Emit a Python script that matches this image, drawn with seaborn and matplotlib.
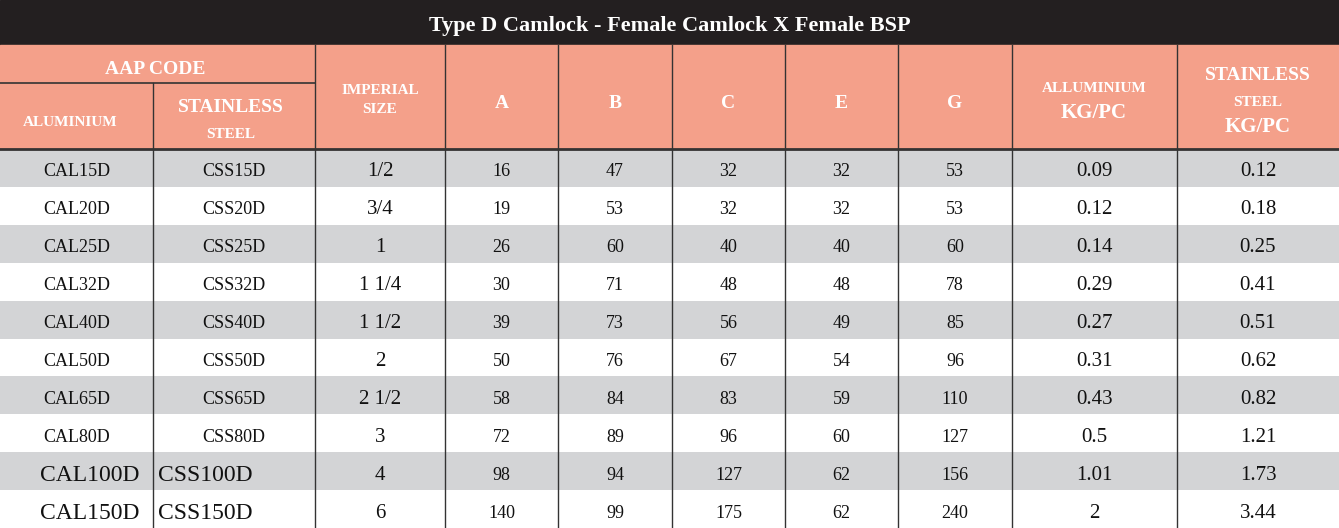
import numpy as np
import seaborn as sns
import matplotlib.pyplot as plt
from matplotlib.colors import ListedColormap
from matplotlib.patches import Rectangle

title = "Type D Camlock - Female Camlock X Female BSP"
alu_code = ["CAL15D", "CAL20D", "CAL25D", "CAL32D", "CAL40D", "CAL50D",
            "CAL65D", "CAL80D", "CAL100D", "CAL150D"]
ss_code = ["CSS15D", "CSS20D", "CSS25D", "CSS32D", "CSS40D", "CSS50D",
           "CSS65D", "CSS80D", "CSS100D", "CSS150D"]
imperial = ["1/2", "3/4", "1", "1 1/4", "1 1/2", "2", "2 1/2", "3", "4", "6"]
dim_a = [16, 19, 26, 30, 39, 50, 58, 72, 98, 140]
dim_b = [47, 53, 60, 71, 73, 76, 84, 89, 94, 99]
dim_c = [32, 32, 40, 48, 56, 67, 83, 96, 127, 175]
dim_e = [32, 32, 40, 48, 49, 54, 59, 60, 62, 62]
dim_g = [53, 53, 60, 78, 85, 96, 110, 127, 156, 240]
kg_alu = ["0.09", "0.12", "0.14", "0.29", "0.27", "0.31", "0.43", "0.5", "1.01", "2"]
kg_ss = ["0.12", "0.18", "0.25", "0.41", "0.51", "0.62", "0.82", "1.21", "1.73", "3.44"]

W, H = 1339, 528
col_x = [0, 153, 315, 445, 558, 672, 785, 898, 1012, 1177, 1339]
title_h, head_mid, body_top = 45, 83, 149
salmon = "#F4A08A"
font = "Liberation Serif"

fig = plt.figure(figsize=(W / 100, H / 100), dpi=100)

# striped body via seaborn heatmap
n = len(alu_code)
bx = fig.add_axes([0, 0, 1, (H - body_top) / H])
stripes = np.array([[i % 2] for i in range(n)])
sns.heatmap(stripes, ax=bx, cmap=ListedColormap(["#D3D4D6", "#FFFFFF"]),
            cbar=False, xticklabels=False, yticklabels=False)
bx.set_axis_off()

ax = fig.add_axes([0, 0, 1, 1])
ax.set_xlim(0, W)
ax.set_ylim(H, 0)
ax.set_axis_off()
ax.patch.set_alpha(0)

ax.add_patch(Rectangle((0, 0), W, title_h, color="#231F20"))
ax.text(W / 2, title_h / 2 + 4, title, color="white", fontsize=16, fontweight="bold",
        family=font, ha="center", va="center")
ax.add_patch(Rectangle((0, title_h), W, body_top - title_h, color=salmon))

hc = dict(color="white", fontweight="bold", family=font, ha="center", va="center")
ax.text(155, 70, "AAP CODE", fontsize=14, **hc)
ax.text(70, 123, "ALUMINIUM", fontsize=11, **hc)
ax.text(231, 107, "STAINLESS", fontsize=14, **hc)
ax.text(231, 134, "STEEL", fontsize=11, **hc)
ax.text(380, 100, "IMPERIAL\nSIZE", fontsize=11, linespacing=1.6, **hc)
for lab, i in zip(["A", "B", "C", "E", "G"], range(3, 8)):
    ax.text((col_x[i] + col_x[i + 1]) / 2, 103, lab, fontsize=14, **hc)
ax.text(1094, 89, "ALLUMINIUM", fontsize=11, **hc)
ax.text(1094, 113, "KG/PC", fontsize=15, **hc)
ax.text(1258, 75, "STAINLESS", fontsize=14, **hc)
ax.text(1258, 103, "STEEL", fontsize=11, **hc)
ax.text(1258, 127, "KG/PC", fontsize=15, **hc)

# grid lines
lc = "#333333"
ax.plot([0, 315], [head_mid, head_mid], color=lc, lw=1.2)
ax.plot([0, W], [body_top, body_top], color=lc, lw=2)
for x in col_x[1:-1]:
    y0 = head_mid if x == 153 else title_h
    ax.plot([x, x], [y0, H], color=lc, lw=1)

rh = (H - body_top) / n
cols = [alu_code, ss_code, imperial, dim_a, dim_b, dim_c, dim_e, dim_g, kg_alu, kg_ss]
sizes = [13, 13, 15, 13, 13, 13, 13, 13, 15, 15]
for r in range(n):
    yc = body_top + rh * (r + 0.5) + 4
    for c, vals in enumerate(cols):
        xc = (col_x[c] + col_x[c + 1]) / 2
        fs = sizes[c]
        if r >= 8 and c < 2:
            fs = 17
            xc = 90 if c == 0 else 205
        ax.text(xc, yc, str(vals[r]), fontsize=fs, family=font, color="#111111",
                ha="center", va="center")

fig.savefig("out.png", dpi=100)
